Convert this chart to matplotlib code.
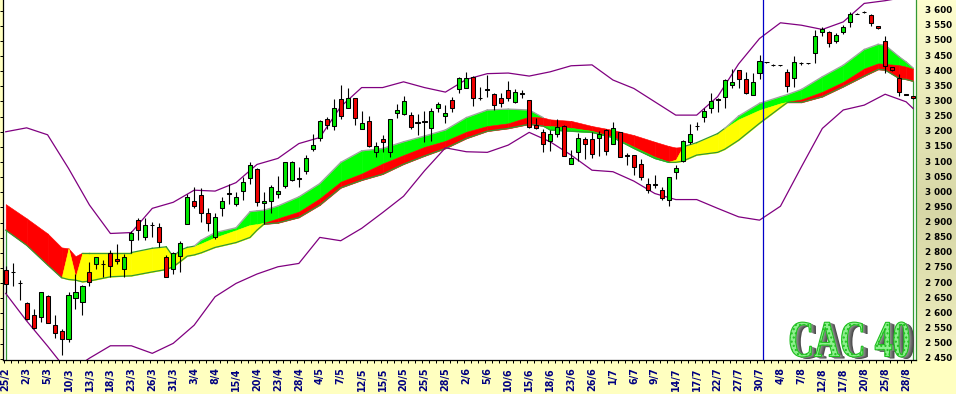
"""CAC 40 daily candles with a moving-average ribbon and an envelope band."""

import matplotlib

matplotlib.use("Agg")

import matplotlib.pyplot as plt  # noqa: E402
import numpy as np  # noqa: E402
from matplotlib.colors import LinearSegmentedColormap  # noqa: E402
from matplotlib.font_manager import FontProperties  # noqa: E402
from matplotlib.patches import PathPatch  # noqa: E402
from matplotlib.textpath import TextPath  # noqa: E402
from matplotlib.transforms import Affine2D, blended_transform_factory  # noqa: E402


OUT_PATH = "out.png"

# one label every third session, starting at the first candle
DATE_LABELS = [
    "25/2", "2/3", "5/3", "10/3", "13/3", "18/3", "23/3", "26/3", "31/3", "3/4",
    "8/4", "15/4", "20/4", "23/4", "28/4", "4/5", "7/5", "12/5", "15/5", "20/5",
    "25/5", "28/5", "2/6", "5/6", "10/6", "15/6", "18/6", "23/6", "26/6", "1/7",
    "6/7", "9/7", "14/7", "17/7", "22/7", "27/7", "30/7", "4/8", "7/8", "12/8",
    "17/8", "20/8", "25/8", "28/8",
]

OPEN = [
    2743, 2738, 2702, 2633, 2594, 2589, 2657, 2561, 2541, 2517,
    2652, 2636, 2737, 2762, 2764, 2800, 2781, 2748, 2844, 2908,
    2851, 2893, 2886, 2785, 2745, 2790, 2894, 2970, 2990, 2930,
    2851, 2949, 2997, 2962, 3005, 3048, 3077, 2965, 2972, 2995,
    3022, 3041, 3046, 3072, 3142, 3181, 3242, 3220, 3307, 3280,
    3310, 3208, 3237, 3134, 3176, 3134, 3263, 3259, 3257, 3231,
    3234, 3213, 3280, 3251, 3305, 3340, 3346, 3382, 3313, 3341,
    3324, 3310, 3338, 3299, 3328, 3305, 3222, 3198, 3170, 3194,
    3219, 3095, 3134, 3175, 3175, 3180, 3205, 3161, 3198, 3122,
    3123, 3095, 3027, 3027, 3007, 2974, 3066, 3104, 3167, 3220,
    3250, 3277, 3308, 3316, 3356, 3404, 3373, 3323, 3395, 3431,
    3422, 3420, 3396, 3379, 3428, 3427, 3459, 3528, 3528, 3501,
    3528, 3561, 3590, 3596, 3585, 3550, 3500, 3413, 3379, 3324,
    3317,
]
HIGH = [
    2755, 2765, 2710, 2638, 2613, 2669, 2660, 2594, 2550, 2669,
    2730, 2693, 2770, 2787, 2776, 2809, 2829, 2796, 2873, 2914,
    2914, 2903, 2897, 2793, 2804, 2840, 2996, 3016, 3013, 2947,
    2933, 2985, 3027, 3000, 3051, 3100, 3080, 3001, 3024, 3054,
    3099, 3103, 3084, 3123, 3191, 3239, 3250, 3307, 3354, 3343,
    3310, 3268, 3253, 3167, 3189, 3241, 3291, 3318, 3266, 3258,
    3269, 3277, 3299, 3290, 3316, 3382, 3398, 3384, 3349, 3387,
    3327, 3329, 3367, 3340, 3338, 3305, 3244, 3208, 3205, 3241,
    3222, 3139, 3197, 3183, 3200, 3202, 3209, 3231, 3200, 3131,
    3123, 3109, 3046, 3057, 3018, 3049, 3090, 3172, 3225, 3231,
    3277, 3327, 3310, 3373, 3406, 3404, 3398, 3395, 3453, 3432,
    3424, 3421, 3406, 3450, 3432, 3428, 3536, 3547, 3533, 3525,
    3552, 3596, 3591, 3599, 3588, 3550, 3516, 3415, 3391, 3325,
    3318,
]
LOW = [
    2666, 2691, 2644, 2578, 2550, 2572, 2567, 2520, 2464, 2506,
    2616, 2594, 2691, 2745, 2721, 2721, 2763, 2721, 2801, 2842,
    2844, 2853, 2820, 2719, 2730, 2737, 2894, 2947, 2903, 2873,
    2845, 2922, 2960, 2955, 2976, 3029, 2955, 2895, 2932, 2982,
    3015, 3038, 3016, 3062, 3137, 3169, 3208, 3205, 3242, 3280,
    3224, 3208, 3151, 3117, 3134, 3115, 3244, 3255, 3208, 3189,
    3167, 3170, 3266, 3230, 3266, 3329, 3343, 3285, 3305, 3316,
    3272, 3283, 3301, 3294, 3310, 3211, 3208, 3134, 3137, 3183,
    3121, 3095, 3103, 3109, 3112, 3121, 3123, 3159, 3115, 3090,
    3057, 3040, 2998, 3013, 2976, 2955, 3044, 3101, 3159, 3205,
    3233, 3263, 3266, 3279, 3346, 3346, 3324, 3321, 3373, 3428,
    3416, 3418, 3332, 3349, 3422, 3425, 3428, 3517, 3481, 3494,
    3522, 3547, 3588, 3592, 3550, 3538, 3395, 3402, 3318, 3322,
    3308,
]
CLOSE = [
    2696, 2736, 2700, 2580, 2552, 2669, 2567, 2534, 2517, 2660,
    2669, 2690, 2704, 2787, 2762, 2757, 2774, 2785, 2864, 2875,
    2891, 2891, 2837, 2719, 2800, 2834, 2985, 2955, 2930, 2900,
    2917, 2970, 2995, 2984, 3034, 3090, 2969, 2970, 3018, 3004,
    3099, 3099, 3044, 3112, 3156, 3235, 3224, 3280, 3251, 3310,
    3247, 3229, 3153, 3153, 3167, 3241, 3272, 3301, 3217, 3229,
    3232, 3268, 3292, 3262, 3277, 3376, 3376, 3310, 3311, 3339,
    3290, 3296, 3313, 3330, 3326, 3217, 3213, 3161, 3191, 3217,
    3121, 3112, 3181, 3161, 3126, 3191, 3137, 3213, 3115, 3120,
    3082, 3049, 3009, 3025, 2982, 3049, 3079, 3169, 3194, 3218,
    3268, 3301, 3306, 3371, 3363, 3373, 3329, 3365, 3433, 3430,
    3419, 3419, 3351, 3429, 3427, 3426, 3516, 3541, 3494, 3519,
    3547, 3588, 3589, 3595, 3558, 3542, 3418, 3404, 3332, 3323,
    3310,
]

# ribbon: three edges, colour of the upper (top-mid) and lower (mid-bottom)
# part for the stretch that starts at each point; "-" means nothing drawn
RIB_IDX = [
    0, 3, 6, 8, 9, 10, 11, 12, 15, 18, 21, 23, 24, 25, 26, 27,
    28, 30, 33, 35, 36, 37, 39, 42, 45, 48, 51, 54, 57, 60, 63, 66,
    69, 72, 75, 77, 77, 78, 81, 84, 87, 90, 93, 95, 96, 97, 99, 102,
    103, 105, 108, 111, 112, 114, 117, 120, 123, 125, 126, 128, 129, 130,
]
RIB_TOP = [
    2961, 2914, 2864, 2818, 2815, 2789, 2801, 2801, 2801, 2801, 2815, 2820, 2787, 2809, 2818, 2822,
    2842, 2867, 2883, 2936, 2939, 2941, 2955, 2985, 3029, 3099, 3137, 3145, 3167, 3186, 3206, 3247,
    3272, 3275, 3272, 3247, 3247, 3241, 3236, 3219, 3206, 3189, 3167, 3153, 3148, 3150, 3164, 3194,
    3211, 3252, 3294, 3316, 3323, 3340, 3382, 3420, 3472, 3489, 3486, 3448, 3431, 3411,
]
RIB_MID = [
    2875, 2825, 2760, 2718, 2815, 2721, 2801, 2801, 2801, 2801, 2815, 2820, 2787, 2809, 2818, 2822,
    2831, 2851, 2875, 2892, 2895, 2899, 2914, 2936, 2980, 3035, 3062, 3095, 3123, 3150, 3170, 3200,
    3219, 3228, 3250, 3247, 3219, 3219, 3213, 3203, 3183, 3150, 3117, 3101, 3108, 3150, 3164, 3194,
    3211, 3241, 3272, 3294, 3299, 3307, 3332, 3365, 3409, 3426, 3424, 3420, 3415, 3408,
]
RIB_BOT = [
    2875, 2825, 2760, 2718, 2712, 2710, 2704, 2707, 2721, 2724, 2737, 2745, 2754, 2771, 2789, 2793,
    2800, 2818, 2834, 2851, 2875, 2895, 2899, 2917, 2958, 3015, 3040, 3060, 3093, 3120, 3145, 3178,
    3202, 3211, 3225, 3219, 3219, 3206, 3202, 3198, 3181, 3145, 3112, 3099, 3099, 3103, 3123, 3132,
    3142, 3172, 3228, 3280, 3297, 3297, 3316, 3349, 3384, 3406, 3404, 3376, 3373, 3367,
]
RIB_UP = [
    "r", "r", "r", "r", "r", "r", "-", "-", "-", "-", "-", "-", "-", "-", "-", "g",
    "g", "g", "g", "g", "g", "g", "g", "g", "g", "g", "g", "g", "g", "g", "g", "g",
    "g", "g", "g", "-", "r", "r", "r", "r", "r", "r", "r", "r", "r", "-", "-", "-",
    "g", "g", "g", "g", "g", "g", "g", "g", "g", "g", "g", "g", "g", "-",
]
RIB_LOW = [
    "-", "-", "-", "y", "y", "y", "y", "y", "y", "y", "y", "y", "y", "y", "y", "y",
    "y", "y", "y", "y", "y", "r", "r", "r", "r", "r", "r", "r", "r", "r", "r", "r",
    "r", "r", "r", "-", "g", "g", "g", "g", "g", "g", "g", "y", "y", "y", "y", "y",
    "y", "y", "y", "y", "r", "r", "r", "r", "r", "r", "r", "r", "r", "-",
]

ENV_IDX = [
    0, 3, 6, 9, 12, 15, 18, 21, 24, 27, 30, 33, 36, 39, 42, 45, 48, 51, 54, 57,
    60, 63, 66, 69, 72, 75, 78, 81, 84, 87, 90, 93, 96, 99, 102, 105, 108, 111,
    114, 117, 120, 123, 126, 129, 130,
]
ENV_UPPER = [
    3200, 3213, 3190, 3079, 2958, 2864, 2867, 2947, 2967, 3007,
    3004, 3032, 3092, 3112, 3161, 3181, 3283, 3346, 3346, 3365,
    3346, 3331, 3373, 3392, 3394, 3384, 3398, 3418, 3421, 3371,
    3343, 3299, 3255, 3255, 3316, 3424, 3508, 3560, 3552, 3538,
    3563, 3624, 3633, 3645, 3652,
]
ENV_LOWER = [
    2666, 2575, 2492, 2405, 2452, 2493, 2493, 2468, 2501, 2561,
    2655, 2699, 2730, 2754, 2765, 2851, 2840, 2881, 2933, 2987,
    3071, 3147, 3134, 3132, 3156, 3198, 3167, 3123, 3073, 3068,
    3037, 2996, 2976, 2976, 2947, 2919, 2908, 2954, 3084, 3211,
    3272, 3288, 3324, 3299, 3277,
]

Y_TICKS = list(range(2450, 3601, 50))
CURSOR_IDX = 108.5
LOGO_TEXT = "CAC 40"

FILL = {"r": "#ff0000", "g": "#00ff00", "y": "#ffff00"}
TOP_EDGE = {"r": None, "g": "#a0a0a0", "y": "#339933"}
CANDLE_UP = "#00e800"
CANDLE_DOWN = "#ee0000"
ENVELOPE = "#800080"
RIBBON_LINE = "#339933"
PANEL = "#ffffc0"


def main() -> int:
    fig = plt.figure(figsize=(9.56, 3.94), dpi=100, facecolor=PANEL)
    ax = fig.add_axes([3 / 956, 34 / 394, 913 / 956, 360 / 394])
    ax.set_facecolor("white")
    ax.set_xlim(-0.387, 130.42)
    ax.set_ylim(2446, 3635.3)

    draw_side_panel(fig)
    draw_ribbon(ax)
    draw_envelope(ax)
    draw_candles(ax)
    ax.axvline(CURSOR_IDX, color="#0000c8", linewidth=0.9, zorder=5)
    style_axes(ax)
    draw_logo(fig)

    fig.savefig(OUT_PATH, dpi=100, facecolor=fig.get_facecolor())
    plt.close(fig)
    return 0


def draw_side_panel(fig) -> None:
    panel = fig.add_axes([916 / 956, 34 / 394, 40 / 956, 360 / 394], zorder=-1)
    cmap = LinearSegmentedColormap.from_list(
        "panel",
        [(0.0, "#ffffd0"), (0.3, "#e8e8b8"), (0.58, "#d6d6a6"), (0.8, "#e2e2b2"), (1.0, "#f4f4c4")],
    )
    panel.imshow(np.linspace(0, 1, 256)[:, None], aspect="auto", cmap=cmap)
    panel.set_axis_off()


def draw_ribbon(ax) -> None:
    for k in range(len(RIB_IDX) - 1):
        xs = [RIB_IDX[k], RIB_IDX[k + 1]]
        top = [RIB_TOP[k], RIB_TOP[k + 1]]
        mid = [RIB_MID[k], RIB_MID[k + 1]]
        bot = [RIB_BOT[k], RIB_BOT[k + 1]]
        up, low = RIB_UP[k], RIB_LOW[k]
        if up != "-":
            ax.fill_between(xs, mid, top, color=FILL[up], linewidth=0.4, zorder=1)
        if low != "-":
            ax.fill_between(xs, bot, mid, color=FILL[low], linewidth=0.4, zorder=1)

        upper_shown = up != "-" and (top[0] > mid[0] or top[1] > mid[1])
        key = up if upper_shown else low
        if key != "-" and TOP_EDGE[key]:
            ax.plot(xs, top, color=TOP_EDGE[key], linewidth=0.9, zorder=1.5)

    ax.plot(RIB_IDX, RIB_BOT, color=RIBBON_LINE, linewidth=0.9, zorder=1.5)
    ax.vlines([RIB_IDX[0] + 0.1, RIB_IDX[-1]], 2446, [RIB_BOT[0], RIB_BOT[-1]],
              color=RIBBON_LINE, linewidth=0.9, zorder=1.5)


def draw_envelope(ax) -> None:
    ax.plot(ENV_IDX, ENV_UPPER, color=ENVELOPE, linewidth=0.9, zorder=2)
    ax.plot(ENV_IDX, ENV_LOWER, color=ENVELOPE, linewidth=0.9, zorder=2)


def draw_candles(ax) -> None:
    o, h, l, c = (np.array(v, dtype=float) for v in (OPEN, HIGH, LOW, CLOSE))
    idx = np.arange(len(o))
    ax.vlines(idx, l, h, color="black", linewidth=0.8, zorder=3)

    colours = np.where(c >= o, CANDLE_UP, CANDLE_DOWN)
    doji = np.abs(c - o) <= 2
    colours[doji] = "black"
    heights = np.maximum(np.abs(c - o), 0.8)
    ax.bar(idx, heights, bottom=np.minimum(o, c), width=0.58, color=colours,
           edgecolor="black", linewidth=0.75, zorder=4)


def style_axes(ax) -> None:
    ax.spines["top"].set_visible(False)
    ax.spines["left"].set_color("black")
    ax.spines["bottom"].set_color("black")
    ax.spines["right"].set_color(RIBBON_LINE)
    for spine in ax.spines.values():
        spine.set_linewidth(0.9)

    ax.set_xticks(np.arange(len(OPEN)) - 0.3)
    ax.set_yticks(Y_TICKS)
    ax.tick_params(axis="x", length=2.4, width=0.72, direction="out",
                   labelbottom=False, color="black")
    ax.tick_params(axis="y", length=2.2, width=0.72, direction="out",
                   labelleft=False, color="black")

    label_trans = blended_transform_factory(ax.transData, ax.transAxes)
    for k, label in enumerate(DATE_LABELS):
        ax.text(3 * k, -7.5 / 360, label, transform=label_trans, rotation=90,
                ha="center", va="top", fontsize=6.9, fontweight="bold",
                color="#000080", family="DejaVu Sans", clip_on=False)

    value_trans = blended_transform_factory(ax.figure.transFigure, ax.transData)
    for value in Y_TICKS:
        text = f"{value // 1000} {value % 1000:03d}"
        ax.text(938.5 / 956, value, text, transform=value_trans, ha="center",
                va="center", fontsize=6.3, fontweight="bold", color="black",
                family="DejaVu Sans", clip_on=False)


def draw_logo(fig) -> None:
    prop = FontProperties(family="Liberation Serif", weight="bold")
    path = TextPath((0, 0), LOGO_TEXT, size=100, prop=prop)
    ext = path.get_extents()
    left, right, bottom, top = 790, 909, 394 - 357, 394 - 322
    base = (Affine2D()
            .translate(-ext.x0, -ext.y0)
            .scale((right - left) / ext.width, (top - bottom) / ext.height)
            .translate(left, bottom))

    shades = ["#4a4a4a", "#5c5c5c", "#6e6e6e", "#808080", "#939393"]
    for step, shade in zip(range(5, 0, -1), shades):
        shadow = PathPatch(path, facecolor=shade, edgecolor="none",
                           transform=base + Affine2D().translate(step, -0.4 * step))
        shadow.set_zorder(10)
        fig.add_artist(shadow)

    plt.rcParams["hatch.linewidth"] = 1.0
    face = PathPatch(path, facecolor="#8ef08e", edgecolor="#1fbf1f", linewidth=0.8,
                     hatch="....", transform=base)
    face.set_zorder(11)
    fig.add_artist(face)


if __name__ == "__main__":
    raise SystemExit(main())
